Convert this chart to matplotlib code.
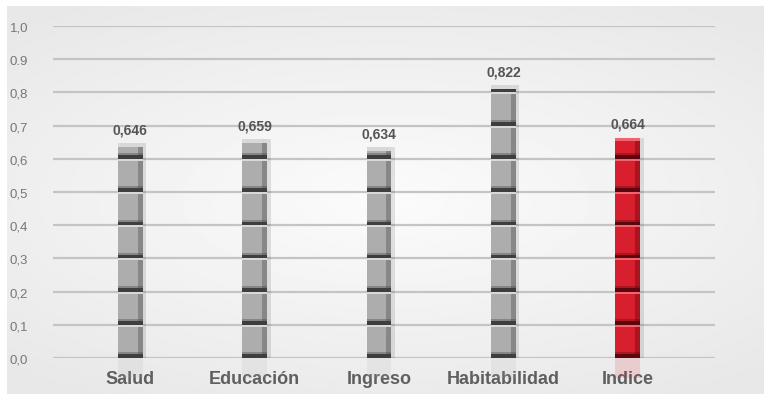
import matplotlib.pyplot as plt
import numpy as np
from matplotlib.patches import Rectangle

categories = ["Salud", "Educación", "Ingreso", "Habitabilidad", "Indice"]
values = [0.646, 0.659, 0.634, 0.822, 0.664]
value_labels = ["0,646", "0,659", "0,634", "0,822", "0,664"]
ytick_vals = [0.0, 0.1, 0.2, 0.3, 0.4, 0.5, 0.6, 0.7, 0.8, 0.9, 1.0]
ytick_labels = ["0,0", "0,1", "0,2", "0,3", "0,4", "0,5", "0,6", "0,7", "0,8", "0.9", "1,0"]
highlight = "Indice"

narrow = ["Liberation Sans Narrow", "Liberation Sans", "DejaVu Sans"]

fig = plt.figure(figsize=(7.7, 4.02), dpi=100)
fig.patch.set_facecolor("white")

# background panel with soft radial gradient
bg = fig.add_axes([0.009, 0.018, 0.982, 0.965])
yy, xx = np.mgrid[-1:1:200j, -1:1:400j]
r = np.sqrt((xx * 0.9) ** 2 + (yy * 1.1) ** 2)
shade = 0.985 - 0.075 * np.clip(r, 0, 1.3) / 1.3
bg.imshow(shade, cmap="gray", vmin=0, vmax=1, aspect="auto", extent=[0, 1, 0, 1])
bg.set_axis_off()

ax = fig.add_axes([0.0688, 0.107, 0.8598, 0.826])
ax.patch.set_alpha(0)
ax.set_xlim(-0.62, 4.70)
ax.set_ylim(0, 1.0)

for y in ytick_vals:
    ax.axhline(y, color="#c4c4c4", lw=1.6, zorder=1)

w = 0.2
for i, (cat, v) in enumerate(zip(categories, values)):
    if cat == highlight:
        base, dark, light, side = "#d71f2e", "#5e060d", "#f06470", "#8a0d18"
    else:
        base, dark, light, side = "#adadad", "#3e3e3e", "#d8d8d8", "#6e6e6e"
    x0 = i - w / 2
    ax.add_patch(Rectangle((x0, 0), w, v, facecolor=base, edgecolor="none", zorder=3))
    # right side shading
    ax.add_patch(Rectangle((x0 + w * 0.8, 0), w * 0.2, v, facecolor=side,
                           alpha=0.6, edgecolor="none", zorder=4))
    ax.add_patch(Rectangle((x0 + w, 0), w * 0.14, v, facecolor="#000000",
                           alpha=0.1, edgecolor="none", zorder=2))
    # segment joints every 0.1
    k = 0
    while k * 0.1 < v - 0.012:
        yb = k * 0.1
        ax.add_patch(Rectangle((x0, yb), w, 0.011, facecolor=dark,
                               edgecolor="none", zorder=5))
        ax.add_patch(Rectangle((x0, yb + 0.011), w, 0.006, facecolor=dark,
                               alpha=0.35, edgecolor="none", zorder=5))
        if k > 0:
            ax.add_patch(Rectangle((x0, yb - 0.006), w, 0.006, facecolor=light,
                                   edgecolor="none", zorder=5))
        k += 1
    # bevelled top
    ax.add_patch(Rectangle((x0, v - 0.012), w, 0.012, facecolor=light,
                           edgecolor="none", zorder=5))
    ax.text(i, v + 0.02, value_labels[i], ha="center", va="bottom",
            fontsize=10, fontweight="bold", color="#555555", family=narrow)
    # faint reflection below the base line
    ax.add_patch(Rectangle((x0, -0.06), w, 0.06, facecolor=base, alpha=0.15,
                           edgecolor="none", zorder=2, clip_on=False))

ax.set_yticks(ytick_vals)
ax.set_yticklabels(ytick_labels, fontsize=9.5, color="#777777", family=narrow)
ax.set_xticks(range(len(categories)))
ax.set_xticklabels(categories, fontsize=13, fontweight="bold", color="#5f5f5f",
                   family=narrow)
ax.tick_params(axis="both", length=0)
ax.tick_params(axis="y", pad=18)
ax.tick_params(axis="x", pad=9)
for s in ax.spines.values():
    s.set_visible(False)

fig.savefig("out.png", dpi=100)
